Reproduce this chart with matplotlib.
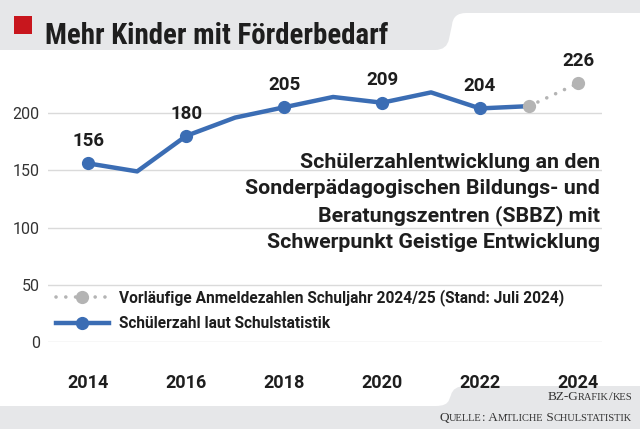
import matplotlib
matplotlib.use("Agg")
import matplotlib.pyplot as plt
from matplotlib.path import Path
from matplotlib.patches import PathPatch, Rectangle
from matplotlib.lines import Line2D
from matplotlib.offsetbox import TextArea, HPacker, AnnotationBbox

W, H = 640, 429

# Daten
jahre = [2014, 2015, 2016, 2017, 2018, 2019, 2020, 2021, 2022, 2023]
schueler = [156, 149, 180, 196, 205, 214, 209, 218, 204, 206]
vorl_jahre = [2023, 2024]
vorl_werte = [206, 226]
beschriftete_jahre = [2014, 2016, 2018, 2020, 2022]
y_ticks = [0, 50, 100, 150, 200]
x_ticks = [2014, 2016, 2018, 2020, 2022, 2024]

titel = "Mehr Kinder mit Förderbedarf"
info = ["Schülerzahlentwicklung an den",
        "Sonderpädagogischen Bildungs- und",
        "Beratungszentren (SBBZ) mit",
        "Schwerpunkt Geistige Entwicklung"]
label_vorl = "Vorläufige Anmeldezahlen Schuljahr 2024/25 (Stand: Juli 2024)"
label_ist = "Schülerzahl laut Schulstatistik"

BLAU = "#3b6db4"
GRAU = "#b4b4b4"
BAND = "#e6e7e9"
TXT = "#1e1e1e"
SANS = ["Roboto", "DejaVu Sans"]
DOTS = (0, (0.01, 2.7))

plt.rcParams["font.family"] = SANS


def f(x, y):
    # Pixel (von oben) -> Figurkoordinaten
    return (x / W, (H - y) / H)


fig = plt.figure(figsize=(W / 100, H / 100), dpi=100)
fig.patch.set_facecolor("white")

# graue Bänder oben und unten
M, C, L = Path.MOVETO, Path.CURVE3, Path.LINETO
codes = [M, L, L, L, C, C, L, C, C, L, Path.CLOSEPOLY]
oben = [(0, 0), (640, 0), (640, 13), (466, 13), (453, 13), (452, 25),
        (449, 39), (447, 50), (435, 50), (0, 50), (0, 0)]
unten = [(0, 429), (640, 429), (640, 386), (466, 386), (453, 386), (451, 395),
         (449, 400), (447, 406), (436, 406), (0, 406), (0, 429)]
for pts in (oben, unten):
    p = Path([f(*q) for q in pts], codes)
    fig.add_artist(PathPatch(p, transform=fig.transFigure, facecolor=BAND,
                             edgecolor="none", zorder=0))

# rotes Quadrat + Titel
fig.add_artist(Rectangle(f(14, 34), 18 / W, 18 / H, transform=fig.transFigure,
                         facecolor="#c8161d", edgecolor="none"))
t = fig.text(*f(45, 44), titel, fontsize=20, fontweight="heavy", color=TXT,
             family=["Roboto Condensed", "Liberation Sans Narrow", "Roboto",
                     "DejaVu Sans"], va="baseline")
fig.canvas.draw()
breite = t.get_window_extent().width
t.set_fontsize(20 * 341 / breite)

# Achse
ax = fig.add_axes([48 / W, 87 / H, 554 / W, 282 / H])
ax.set_xlim(2013.18, 2024.49)
ax.set_ylim(0, 246.3)
for s in ax.spines.values():
    s.set_visible(False)
ax.set_yticks(y_ticks)
ax.set_xticks(x_ticks)
ax.grid(axis="y", color="#dadada", linewidth=1)
ax.set_axisbelow(True)
ax.tick_params(length=0)
ax.tick_params(axis="y", pad=6, labelsize=11.5, labelcolor="#333333")
ax.tick_params(axis="x", pad=23, labelsize=13, labelcolor=TXT)
for lab in ax.get_xticklabels():
    lab.set_fontweight("bold")

markiert = [jahre.index(j) for j in beschriftete_jahre]
ax.plot(jahre, schueler, color=BLAU, linewidth=3.2, marker="o", markersize=8.5,
        markevery=markiert, solid_capstyle="round", zorder=3)
ax.plot(vorl_jahre, vorl_werte, color=GRAU, linewidth=2.6,
        linestyle=DOTS, dash_capstyle="round", zorder=4)
ax.plot(vorl_jahre, vorl_werte, color=GRAU, linestyle="none", marker="o",
        markersize=8.5, zorder=5)

for j, v in list(zip(beschriftete_jahre, [schueler[i] for i in markiert])) + \
        [(vorl_jahre[-1], vorl_werte[-1])]:
    ax.annotate(str(v), (j, v), xytext=(0, 16), textcoords="offset points",
                ha="center", va="center", fontsize=13.5, fontweight="bold",
                color=TXT)

# Infotext
for i, zeile in enumerate(info):
    fig.text(*f(600, 168 + i * 26.5), zeile, ha="right", va="baseline",
             fontsize=15.4, fontweight="bold", color=TXT)

# Legende
h_vorl = Line2D([], [], color=GRAU, linewidth=2.6, linestyle=DOTS,
                dash_capstyle="round", marker="o", markersize=8.5)
h_ist = Line2D([], [], color=BLAU, linewidth=3.2, marker="o", markersize=8.5)
leg = ax.legend([h_vorl, h_ist], [label_vorl, label_ist], loc="upper left",
                bbox_to_anchor=f(56, 289), bbox_transform=fig.transFigure,
                frameon=False, fontsize=11.2, handlelength=3.4,
                handletextpad=0.65, labelspacing=0.68, borderpad=0,
                borderaxespad=0, numpoints=1)
for txt in leg.get_texts():
    txt.set_fontweight("bold")
    txt.set_color(TXT)


# Quellenangaben in Kapitälchen
def kapitaelchen(text, x, y, gross=9.5, klein=7.5):
    teile = []
    for ch in text:
        klein_bs = ch.islower()
        if teile and teile[-1][1] == klein_bs:
            teile[-1][0] += ch
        else:
            teile.append([ch, klein_bs])
    kinder = [TextArea(s.upper(), textprops=dict(
        fontsize=klein if k else gross, color="#333333",
        family=["Liberation Serif", "DejaVu Serif"])) for s, k in teile]
    box = HPacker(children=kinder, align="baseline", pad=0, sep=0)
    ab = AnnotationBbox(box, f(x, y), xycoords="figure fraction",
                        box_alignment=(1, 0.5), frameon=False, pad=0)
    fig.add_artist(ab)


kapitaelchen("BZ-Grafik/kes", 632, 397)
kapitaelchen("Quelle: Amtliche Schulstatistik", 632, 418)

fig.savefig("out.png", dpi=100)
